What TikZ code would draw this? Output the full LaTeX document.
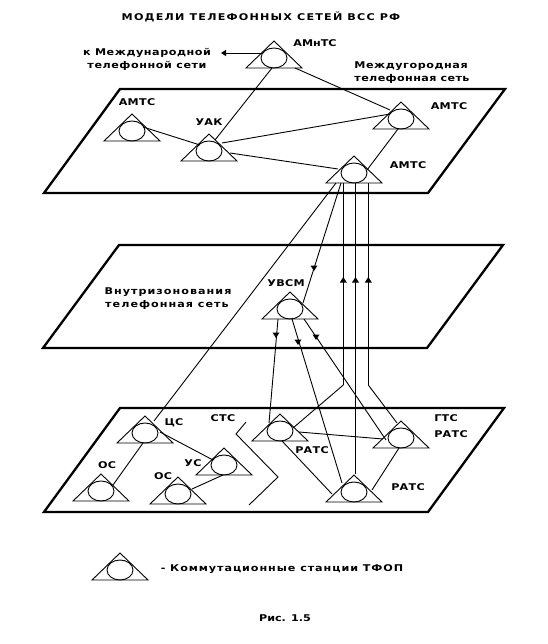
\documentclass[tikz,border=0pt]{standalone}
\usepackage{fontspec}
\setmainfont{DejaVu Sans}[BoldFont={DejaVu Sans Bold}]
\usetikzlibrary{shapes.geometric}
\tikzset{
  plane/.style={draw,line width=2.3pt,line join=miter},
  link/.style={draw,line width=0.9pt},
  lab/.style={inner sep=0pt,font=\fontsize{9.3}{11}\selectfont\bfseries\addfontfeatures{FakeStretch=1.2,LetterSpace=#1}},
  lab/.default=3,
  stcirc/.style={draw,line width=0.9pt,ellipse,minimum width=26pt,minimum height=20pt,inner sep=0pt},
}
\newcommand{\station}[3]{%
  \node[stcirc] (#1) at (#2,#3) {};
  \draw[line width=0.9pt,line join=miter] ([shift={(0,-17)}]#1.center) -- ([shift={(28,10)}]#1.center) -- ([shift={(-28,10)}]#1.center) -- cycle;
}
% \lnk[options]{node a}{dx,dy}{node b}{dx,dy}
\newcommand{\lnk}[5][]{\draw[link,#1] ([shift={(#3)}]#2.center) -- ([shift={(#5)}]#4.center);}
% upright arrow heads, as the reference prints them
\newcommand{\headdown}[2]{\fill (#1-3.5,#2-2.5) -- (#1+3.5,#2-2.5) -- (#1,#2+3) -- cycle;}
\newcommand{\headup}[2]{\fill (#1-3.5,#2+2.5) -- (#1+3.5,#2+2.5) -- (#1,#2-3) -- cycle;}
\begin{document}
\begin{tikzpicture}[x=1pt,y=-1pt]
\useasboundingbox[fill=white] (0,0) rectangle (547,644);
% planes
\draw[plane] (120,89) -- (505,89) -- (428,193) -- (44,193) -- cycle;
\draw[plane] (119,245) -- (503,245) -- (427,348) -- (43,348) -- cycle;
\draw[plane] (120,408) -- (504,408) -- (428,512) -- (44,512) -- cycle;
% stations
\station{amnts}{274}{58}
\station{amtsa}{132}{131}
\station{uak}{209}{151}
\station{amtsb}{401}{119}
\station{amtsc}{354}{173}
\station{uvsm}{290}{309}
\station{cs}{145}{433}
\station{osa}{101}{491}
\station{osb}{178}{494}
\station{us}{224}{465}
\station{ratsa}{280}{431}
\station{ratsb}{401}{438}
\station{ratsc}{354}{492}
\station{legend}{120}{570}
% upper links
\coordinate (world) at (223,53);
\draw[link] ([shift={(-11,-5)}]amnts.center) -- (world);
\fill (221,53) -- (226,49.8) -- (226,56.2) -- cycle;
\lnk{amnts}{-2,10}{uak}{6,-11}
\lnk{amnts}{21,10}{amtsb}{-11,-9}
\lnk{amtsa}{11,-4}{uak}{-9,-6}
\lnk{uak}{13,-8}{amtsb}{-11,-5}
\lnk{uak}{21,2}{amtsc}{-16,-4}
\lnk{amtsb}{-3,10}{amtsc}{13,-3}
% between planes
\lnk{amtsc}{-18,10}{cs}{9,-12}
\lnk{amtsc}{-13,10}{uvsm}{13,-6}
\coordinate (bendc) at (343.3,385);
\coordinate (bende) at (368.3,385);
\draw[link] (bendc) -- ([shift={(-10.7,10)}]amtsc.center);
\draw[link] (bendc) -- ([shift={(13,-3)}]ratsa.center);
\lnk{ratsc}{1.5,-18}{amtsc}{1.5,10}
\draw[link] (bende) -- ([shift={(14.3,10)}]amtsc.center);
\draw[link] (bende) -- ([shift={(-4,-15)}]ratsb.center);
\lnk{uvsm}{-12,10}{ratsa}{-11,-8}
\lnk{uvsm}{2,10}{ratsc}{-12,-9}
\lnk{ratsb}{-15,2}{uvsm}{14,10}
\headdown{314}{268}
\headdown{276}{335}
\headdown{298}{342}
\headdown{316}{337}
\headup{343.3}{280}
\headup{355.5}{280}
\headup{368.3}{280}
% lower links
\lnk{ratsa}{19,1}{ratsb}{-18,1}
\lnk{ratsa}{2,10}{ratsc}{-22,2}
\lnk{ratsb}{-2,10}{ratsc}{18,-2}
\lnk{cs}{-2,10}{osa}{12,-6}
\lnk{cs}{15,-1}{us}{-11,-5}
\lnk{us}{-1,10}{osb}{14,-5}
\coordinate (za) at (246,422);
\coordinate (zb) at (236,434);
\coordinate (zc) at (278,477);
\coordinate (zd) at (249,505);
\draw[link] (za) -- (zb) -- (zc) -- (zd);
% labels
\node[lab=13] (t) at (261,17) {МОДЕЛИ ТЕЛЕФОННЫХ СЕТЕЙ ВСС РФ};
\node[lab=0] (l1) at (315,43) {АМнТС};
\node[lab=6] (l2) at (147,53) {к Международной};
\node[lab=6] (l3) at (147,66) {телефонной сети};
\node[lab=6] (l4) at (411,66) {Междугородная};
\node[lab=4] (l5) at (412,79) {телефонная сеть};
\node[lab] (l6) at (137,102) {АМТС};
\node[lab] (l7) at (209,122) {УАК};
\node[lab] (l8) at (449,106) {АМТС};
\node[lab] (l9) at (408,165) {АМТС};
\node[lab=11] (l10) at (168,292) {Внутризонования};
\node[lab=11] (l11) at (167,305) {телефонная сеть};
\node[lab] (l12) at (286,283) {УВСМ};
\node[lab] (l13) at (174,423) {ЦС};
\node[lab] (l14) at (223,418) {СТС};
\node[lab] (l15) at (446,418) {ГТС};
\node[lab] (l16) at (451,434) {РАТС};
\node[lab] (l17) at (312,450) {РАТС};
\node[lab] (l18) at (408,487) {РАТС};
\node[lab] (l19) at (107,465) {ОС};
\node[lab] (l20) at (193,463) {УС};
\node[lab] (l21) at (163,476) {ОС};
\node[lab=10] (l22) at (282,569) {- Коммутационные станции ТФОП};
\node[lab=0] (l23) at (285,618) {Рис. 1.5};
\end{tikzpicture}
\end{document}
